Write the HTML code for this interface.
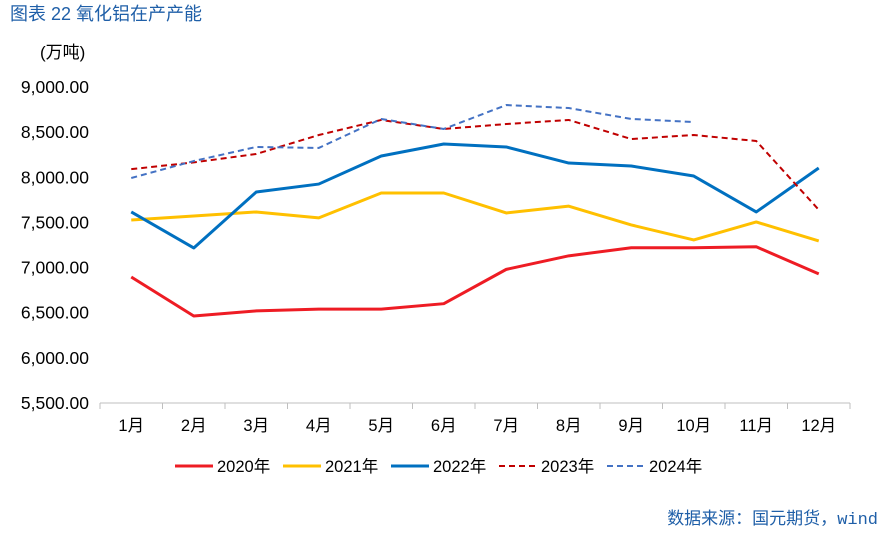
<!DOCTYPE html>
<html><head><meta charset="utf-8"><style>
body{margin:0;background:#fff;}
svg text{font-family:"Liberation Sans","Noto Sans CJK SC",sans-serif;}
</style></head><body>
<svg id="chart" width="886" height="529" viewBox="0 0 886 529" xmlns="http://www.w3.org/2000/svg">
<text x="10" y="20" font-size="18" fill="#1f5fa8">图表 22 氧化铝在产产能</text>
<text x="40" y="58" font-size="17" fill="#000">(万吨)</text>
<g id="grid"></g><g id="series"></g><g id="legend"></g>
<text x="878" y="524" font-size="17" text-anchor="end" fill="#1f5fa8">数据来源：国元期货，<tspan font-family="Liberation Mono">wind</tspan></text>
</svg>
<script>
const categories=["1月","2月","3月","4月","5月","6月","7月","8月","9月","10月","11月","12月"];
const yTicks=[5500,6000,6500,7000,7500,8000,8500,9000];
const seriesNames=["2020年","2021年","2022年","2023年","2024年"];
const s2020=[6896,6464,6520,6540,6540,6600,6980,7130,7220,7220,7230,6930];
const s2021=[7527,7571,7616,7550,7826,7826,7605,7680,7472,7306,7505,7295];
const s2022=[7616,7217,7837,7925,8236,8369,8336,8158,8125,8014,7616,8103];
const s2023=[8090,8165,8258,8468,8635,8535,8590,8635,8424,8468,8402,7640];
const s2024=[7992,8180,8336,8325,8646,8535,8800,8767,8646,8612];
const NS="http://www.w3.org/2000/svg";
const x0=100,x1=850,y0=403,y1=87,vmin=5500,vmax=9000;
const band=(x1-x0)/categories.length;
const xs=i=>x0+band*(i+0.5);
const ys=v=>y0-(v-vmin)/(vmax-vmin)*(y0-y1);
function mk(t,a,p){const e=document.createElementNS(NS,t);for(const k in a)e.setAttribute(k,a[k]);p.appendChild(e);return e;}
const g=document.getElementById('grid');
yTicks.forEach(v=>{const t=mk('text',{x:89,y:ys(v)+6,'font-size':17.5,'text-anchor':'end',fill:'#000'},g);


t.textContent=v.toLocaleString('en-US',{minimumFractionDigits:2});});
const ax=mk('line',{x1:x0,x2:x1,y1:y0,y2:y0,stroke:'#bfbfbf','stroke-width':1},g);


for(let i=0;i<=categories.length;i++){const tk=mk('line',{x1:x0+band*i,x2:x0+band*i,y1:y0,y2:y0+6,stroke:'#bfbfbf'},g);

}
categories.forEach((c,i)=>{const t=mk('text',{x:xs(i),y:431,'font-size':16.5,'text-anchor':'middle',fill:'#000'},g);


t.textContent=c;});
const data=[s2020,s2021,s2022,s2023,s2024];
const colors=["#ee1c24","#ffc000","#0070c0","#c00000","#4472c4"];
const widths=[3,3,3,2,2];
const dash=[null,null,null,"6,4","6,4"];
const sg=document.getElementById('series');
data.forEach((d,k)=>{const p=mk('polyline',{points:d.map((v,i)=>xs(i)+','+ys(v)).join(' '),fill:'none',stroke:colors[k],'stroke-width':widths[k],'stroke-linejoin':'round'},sg);
if(dash[k])p.setAttribute('stroke-dasharray',dash[k]);

});
const lg=document.getElementById('legend');
const lx=[175,283,391,499,607];
seriesNames.forEach((n,k)=>{const l=mk('line',{x1:lx[k],x2:lx[k]+38,y1:466,y2:466,stroke:colors[k],'stroke-width':widths[k]},lg);
if(dash[k])l.setAttribute('stroke-dasharray',dash[k]);


const t=mk('text',{x:lx[k]+42,y:472,'font-size':16.5,fill:'#000'},lg);


t.textContent=n;});
</script>
</body></html>
